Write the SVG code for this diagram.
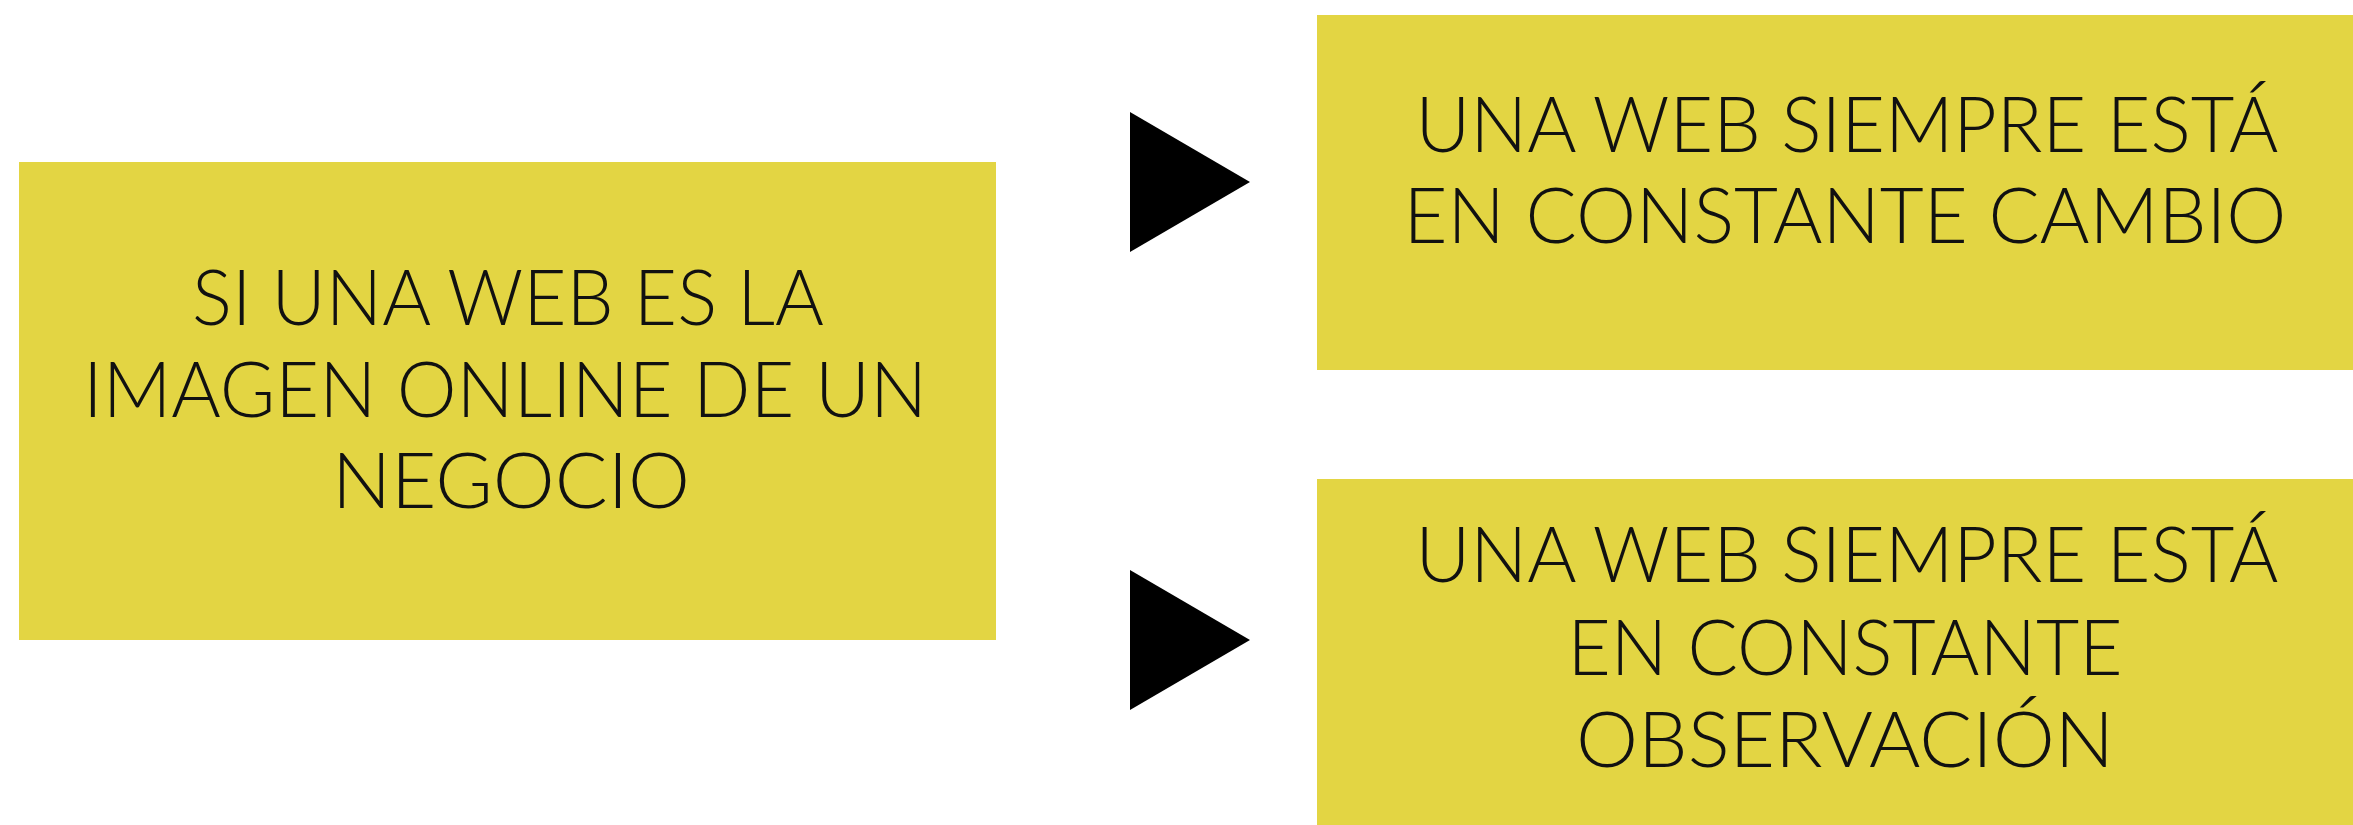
<svg xmlns="http://www.w3.org/2000/svg" width="2353" height="825" viewBox="0 0 2353 825">
<style>
.box{fill:#E3D543}
.t{font-family:"Lato","Liberation Sans",sans-serif;font-weight:300;font-size:76px;fill:#111;text-anchor:middle}
.arr{fill:#000}
</style>
<rect width="2353" height="825" fill="#fff"/>
<g id="node-left">
<rect class="box" x="19" y="162" width="977" height="478"/>
<text class="t" x="508" y="325" textLength="632" lengthAdjust="spacingAndGlyphs">SI UNA WEB ES LA</text>
<text class="t" x="505" y="417" textLength="844" lengthAdjust="spacingAndGlyphs">IMAGEN ONLINE DE UN</text>
<text class="t" x="511" y="508" textLength="358" lengthAdjust="spacingAndGlyphs">NEGOCIO</text>
</g>
<g id="node-top">
<rect class="box" x="1317" y="15" width="1036" height="355"/>
<text class="t" x="1847" y="152" textLength="863" lengthAdjust="spacingAndGlyphs">UNA WEB SIEMPRE ESTÁ</text>
<text class="t" x="1845" y="243" textLength="883" lengthAdjust="spacingAndGlyphs">EN CONSTANTE CAMBIO</text>
</g>
<g id="node-bottom">
<rect class="box" x="1317" y="479" width="1036" height="346"/>
<text class="t" x="1847" y="582" textLength="863" lengthAdjust="spacingAndGlyphs">UNA WEB SIEMPRE ESTÁ</text>
<text class="t" x="1845" y="675" textLength="555" lengthAdjust="spacingAndGlyphs">EN CONSTANTE</text>
<text class="t" x="1845" y="767" textLength="538" lengthAdjust="spacingAndGlyphs">OBSERVACIÓN</text>
</g>
<g id="connectors">
<path class="arr" d="M1130 112 L1250 182 L1130 252 Z"/>
<path class="arr" d="M1130 570 L1250 640 L1130 710 Z"/>
</g>
</svg>
